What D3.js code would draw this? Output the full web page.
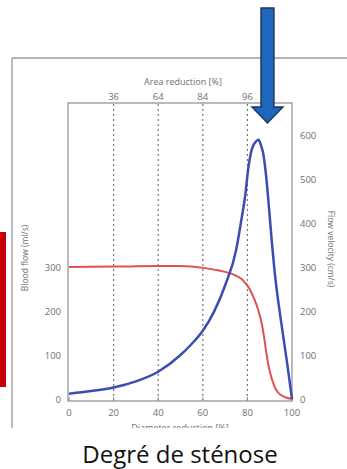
<!DOCTYPE html>
<html><head><meta charset="utf-8">
<script src="https://cdn.jsdelivr.net/npm/d3@7/dist/d3.min.js"></script>
<style>body{margin:0;background:#fff;}svg{display:block;}</style>
</head><body>
<svg id="c" width="347" height="469"></svg>
<script>
// Diameter reduction [%] -> blood flow (ml/s), left axis
const flowD = [0,20,40,50,60,65,70,75,78,81,83,85,86.5,87.5,88.5,89.5,91,93,95,97,100];
const flowV = [300,301,302,302,298,294,289,280,270,250,228,200,170,140,105,75,45,20,9,4,0];
// Diameter reduction [%] -> flow velocity (cm/s), right axis
const velD = [0,10,20,30,40,50,55,60,65,70,75,77,79,80.5,82,84,85,86,87,88,89,90,91,92,93,95,97,98,100];
const velV = [12,18,26,40,62,100,125,155,198,258,340,398,462,528,568,586,589,578,560,525,475,415,355,300,255,180,110,75,0];
const xTicks = [0,20,40,60,80,100];
const gridTicks = [20,40,60,80];
const areaLabels = ["36","64","84","96"];
const leftTicks = [0,100,200,300];
const rightTicks = [0,100,200,300,400,500,600];

const svg = d3.select("#c");
const x = d3.scaleLinear().domain([0,100]).range([69,292]);
const y = d3.scaleLinear().domain([0,600]).range([399,135]);
const fontF = "'Open Sans', 'Liberation Sans', sans-serif";
const tickCol = "#707070";

svg.append("clipPath").attr("id","pic").append("rect").attr("x",0).attr("y",0).attr("width",347).attr("height",428);
const g = svg.append("g").attr("clip-path","url(#pic)");

// outer frame
g.append("line").attr("x1",12).attr("x2",347).attr("y1",58).attr("y2",58).attr("stroke","#9a9a9a").attr("stroke-width",1.3);
g.append("line").attr("x1",12).attr("x2",12).attr("y1",58).attr("y2",428).attr("stroke","#9a9a9a").attr("stroke-width",1.3);

// red side bar
svg.append("rect").attr("x",0).attr("y",232).attr("width",6).attr("height",155).attr("fill","#c8000a");

// plot box
g.append("rect").attr("x",x(0)-1).attr("y",103).attr("width",x(100)-x(0)+1).attr("height",401-103)
  .attr("fill","none").attr("stroke","#8c8c8c").attr("stroke-width",1.2);

// dotted grid
g.selectAll(".grid").data(gridTicks).enter().append("line")
  .attr("x1",d=>x(d)).attr("x2",d=>x(d)).attr("y1",104).attr("y2",400)
  .attr("stroke","#777").attr("stroke-width",1.2).attr("stroke-dasharray","2,3");

// bottom ticks
g.selectAll(".bt").data(xTicks).enter().append("line")
  .attr("x1",d=>x(d)).attr("x2",d=>x(d)).attr("y1",401).attr("y2",397)
  .attr("stroke","#8c8c8c").attr("stroke-width",1);

// bottom labels
g.selectAll(".bl").data(xTicks).enter().append("text")
  .attr("x",d=>x(d)).attr("y",416).attr("text-anchor","middle")
  .attr("font-family",fontF).attr("font-size",9.5).attr("fill",tickCol).text(d=>d);
// bottom axis title, cut off by the picture edge as in the source image
g.append("text").attr("x",180).attr("y",431).attr("text-anchor","middle")
  .attr("font-family",fontF).attr("font-size",9).attr("fill",tickCol).text("Diameter reduction [%]");

// top labels
g.selectAll(".tl").data(gridTicks).enter().append("text")
  .attr("x",d=>x(d)).attr("y",100).attr("text-anchor","middle")
  .attr("font-family",fontF).attr("font-size",9.5).attr("fill",tickCol).text((d,i)=>areaLabels[i]);
g.append("text").attr("x",183).attr("y",85).attr("text-anchor","middle")
  .attr("font-family",fontF).attr("font-size",9).attr("fill",tickCol).text("Area reduction [%]");

// left labels
g.selectAll(".ll").data(leftTicks).enter().append("text")
  .attr("x",61).attr("y",d=>y(d)+3.5).attr("text-anchor","end")
  .attr("font-family",fontF).attr("font-size",9.5).attr("fill",tickCol).text(d=>d);
g.append("text").attr("transform","translate(28,258) rotate(-90)").attr("text-anchor","middle")
  .attr("font-family",fontF).attr("font-size",8.5).attr("fill",tickCol).text("Blood flow (ml/s)");

// right labels
g.selectAll(".rl").data(rightTicks).enter().append("text")
  .attr("x",300).attr("y",d=>y(d)+3.5).attr("text-anchor","start")
  .attr("font-family",fontF).attr("font-size",9.5).attr("fill",tickCol).text(d=>d);
g.append("text").attr("transform","translate(328,249) rotate(90)").attr("text-anchor","middle")
  .attr("font-family",fontF).attr("font-size",8.5).attr("fill",tickCol).text("Flow velocity (cm/s)");

// curves
const line = d3.line().x(d=>x(d[0])).y(d=>y(d[1])).curve(d3.curveMonotoneX);
g.append("path").datum(flowD.map((d,i)=>[d,flowV[i]])).attr("d",line)
  .attr("fill","none").attr("stroke","#e0524f").attr("stroke-width",2);
g.append("path").datum(velD.map((d,i)=>[d,velV[i]])).attr("d",line)
  .attr("fill","none").attr("stroke","#3a4db0").attr("stroke-width",2.5);

// annotation arrow pointing at the peak
const ax = x(89), shaftW = 13, headW = 31, topY = 8, baseY = 107, tipY = 123;
const arrowPts = [[ax-shaftW/2,topY],[ax+shaftW/2,topY],[ax+shaftW/2,baseY],[ax+headW/2,baseY],[ax,tipY],[ax-headW/2,baseY],[ax-shaftW/2,baseY]];
svg.append("polygon").attr("points",arrowPts.map(p=>p.join(",")).join(" "))
  .attr("fill","#1f66bd").attr("stroke","#1c3560").attr("stroke-width",1.4).attr("stroke-linejoin","miter");

// caption
svg.append("text").attr("x",180).attr("y",463).attr("text-anchor","middle")
  .attr("font-family","'Open Sans', sans-serif").attr("font-size",24).attr("fill","#111").text("Degré de sténose");
</script>
</body></html>
